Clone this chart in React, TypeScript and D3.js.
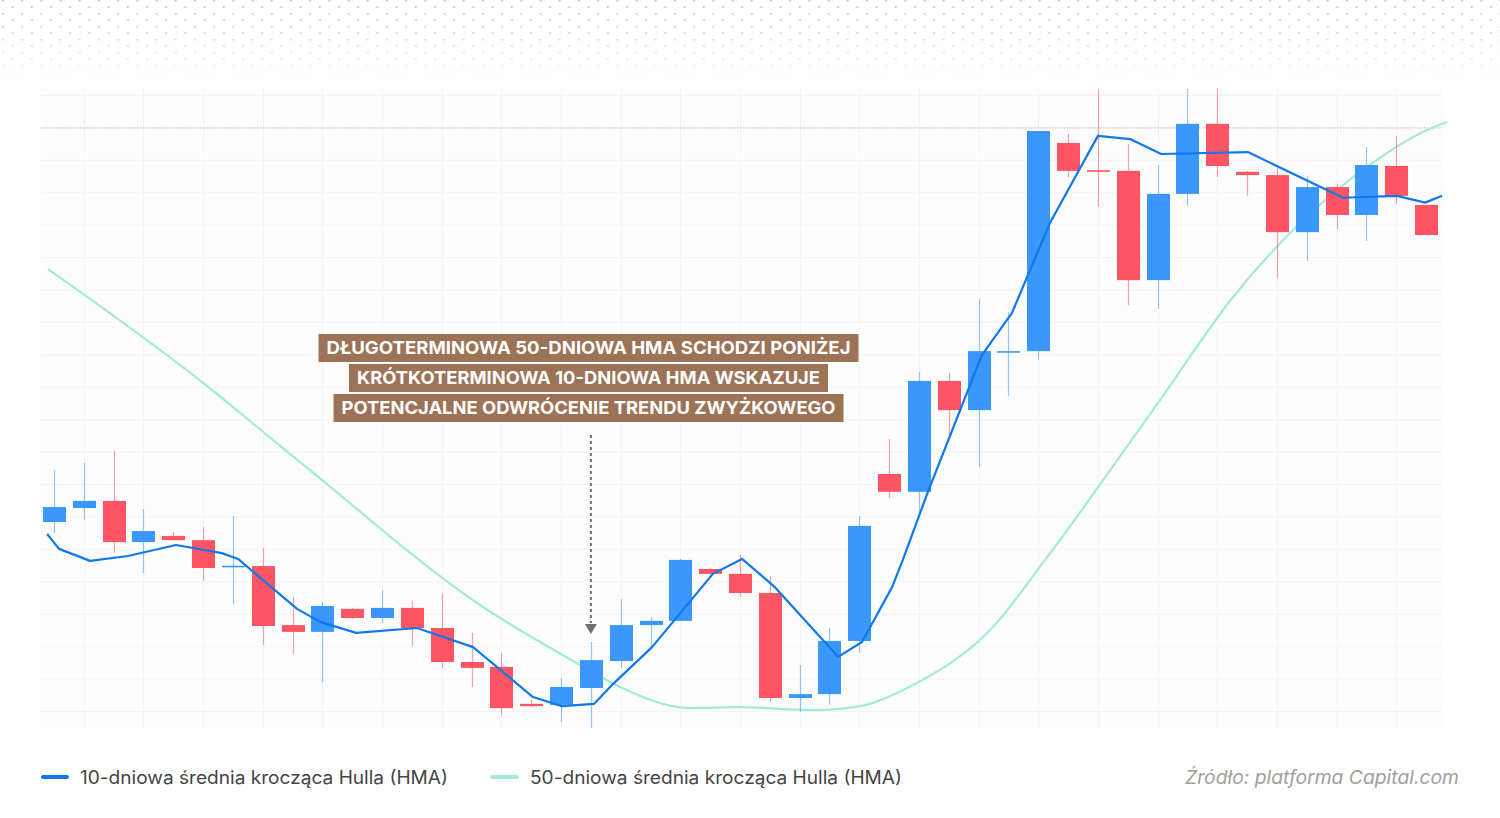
import React from 'react';
import * as d3 from 'd3';

// ---- Data (arbitrary price units) ----
const openPrices = [68.3, 72.6, 74.8, 62.1, 64.0, 62.7, 54.5, 54.7, 36.5, 34.4, 41.5, 38.7, 41.8, 35.6, 25.1, 23.6, 12.2, 11.9, 17.1, 25.4, 36.5, 37.8, 53.8, 52.3, 46.4, 14.0, 15.2, 31.6, 83.1, 77.6, 111.8, 102.8, 120.8, 121.0, 185.2, 176.8, 176.6, 142.9, 169.5, 191.1, 176.3, 175.3, 157.7, 171.6, 163.0, 178.1, 166.1];
const highPrices = [84.3, 86.5, 90.2, 72.3, 65.2, 66.8, 70.1, 60.3, 45.2, 43.6, 41.8, 47.3, 43.9, 46.1, 34.1, 27.9, 13.4, 20.2, 31.3, 44.5, 39.0, 56.9, 54.1, 58.1, 51.6, 24.2, 35.6, 70.1, 93.9, 114.6, 114.3, 137.1, 133.1, 188.9, 188.0, 201.9, 184.9, 178.4, 201.9, 201.9, 176.6, 177.5, 175.0, 172.6, 184.0, 187.4, 166.1];
const lowPrices = [64.9, 68.9, 58.7, 52.6, 62.7, 50.1, 43.0, 30.4, 27.6, 18.9, 38.4, 37.1, 30.0, 23.3, 17.4, 8.8, 11.2, 6.6, 4.8, 23.3, 30.0, 37.8, 51.9, 45.2, 12.8, 9.7, 11.9, 27.9, 75.7, 71.1, 95.1, 85.3, 107.2, 118.3, 174.7, 165.5, 135.2, 134.0, 165.8, 174.7, 168.9, 143.6, 148.8, 158.7, 155.0, 166.4, 156.8];
const closePrices = [72.9, 74.8, 62.1, 65.5, 62.7, 54.1, 54.8, 36.2, 34.4, 42.4, 38.7, 41.8, 35.6, 25.1, 23.3, 10.9, 11.5, 17.4, 25.7, 36.5, 37.8, 56.6, 52.3, 46.4, 14.0, 15.2, 31.6, 67.1, 77.6, 111.8, 102.8, 121.0, 121.0, 188.9, 176.6, 176.6, 142.9, 169.5, 191.1, 178.1, 175.3, 157.7, 171.6, 163.0, 178.4, 168.9, 156.8];

// 10-day HMA (position in candle index units, value)
const hma10Index = [-0.23, 0.17, 1.21, 2.48, 4.09, 5.63, 6.17, 8.15, 8.92, 10.13, 12.17, 14.05, 16.06, 17.03, 18.11, 18.74, 20.05, 22.09, 23.07, 24.17, 26.29, 27.09, 28.10, 28.46, 29.30, 31.11, 32.12, 33.39, 35.0, 36.08, 37.12, 40.03, 43.22, 45.03, 45.97, 46.54];
const hma10Values = [64.6, 60.0, 56.3, 57.8, 61.2, 58.7, 56.9, 41.5, 37.5, 34.1, 35.6, 29.7, 14.3, 11.5, 12.2, 18.3, 29.7, 52.3, 56.9, 48.2, 26.7, 31.3, 48.2, 56.6, 77.6, 119.8, 132.8, 160.5, 187.4, 186.4, 181.8, 182.4, 168.3, 168.9, 166.8, 168.9];

// 50-day HMA
const hma50Index = [-0.2, 5.0, 7.34, 8.58, 14.28, 17.64, 18.98, 21.32, 23.0, 25.45, 27.02, 28.8, 31.48, 33.23, 37.08, 39.53, 41.78, 44.02, 46.03, 46.7];
const hma50Values = [146.3, 111.2, 93.6, 84.3, 42.7, 24.2, 17.4, 10.9, 11.2, 10.3, 11.5, 18.0, 35.9, 56.6, 105.9, 137.7, 160.5, 177.8, 189.2, 191.7];

const gridLevels = d3.range(10, 201, 10);
const referencePrice = 190;
const arrowCandle = 18;

const annotationLines = [
  'DŁUGOTERMINOWA 50-DNIOWA HMA SCHODZI PONIŻEJ',
  'KRÓTKOTERMINOWA 10-DNIOWA HMA WSKAZUJE',
  'POTENCJALNE ODWRÓCENIE TRENDU ZWYŻKOWEGO',
];
const annotationWidths = [540, 479, 510];
const legendLabels = [
  '10-dniowa średnia krocząca Hulla (HMA)',
  '50-dniowa średnia krocząca Hulla (HMA)',
];
const sourceText = 'Źródło: platforma Capital.com';

// ---- Styles ----
const W = 1500;
const H = 818;
const UP = '#3a97fb';
const DOWN = '#ff5463';
const LINE10 = '#0f78ec';
const LINE50 = '#a5e9dd';
const BROWN = '#9d7357';
const FONT = 'Inter, "Noto Sans", sans-serif';

export default function App() {
  const plot = { left: 41, right: 1442, top: 89, bottom: 728 };
  const x = d3.scaleLinear().domain([0, openPrices.length - 1]).range([54, 1426]);
  const y = d3.scaleLinear().domain([10, 200]).range([711, 95]);
  const bodyW = 23;

  const line10 = d3
    .line<number>()
    .x((_, i) => x(hma10Index[i]))
    .y((d) => y(d))
    .curve(d3.curveLinear)(hma10Values);
  const line50 = d3
    .line<number>()
    .x((_, i) => x(hma50Index[i]))
    .y((d) => y(d))
    .curve(d3.curveMonotoneX)(hma50Values);

  const verticalGrid = d3.range(1, openPrices.length, 2);
  const ax = x(arrowCandle);

  return (
    <svg
      width={W}
      height={H}
      style={{ position: 'absolute', left: 0, top: 0, background: '#fff' }}
      xmlns="http://www.w3.org/2000/svg"
    >
      <defs>
        <pattern id="dots" width="19.2" height="13" patternUnits="userSpaceOnUse">
          <circle cx="3" cy="0.5" r="1.2" fill="#c9c9c9" />
          <circle cx="12.6" cy="7" r="1.2" fill="#c9c9c9" />
        </pattern>
        <linearGradient id="fade" x1="0" y1="0" x2="0" y2="1">
          <stop offset="0" stopColor="#fff" stopOpacity="1" />
          <stop offset="1" stopColor="#fff" stopOpacity="0" />
        </linearGradient>
        <mask id="fadeMask">
          <rect x="0" y="0" width={W} height="90" fill="url(#fade)" />
        </mask>
      </defs>

      <rect x="0" y="0" width={W} height={H} fill="#fff" />
      <rect x="0" y="0" width={W} height="90" fill="url(#dots)" mask="url(#fadeMask)" />

      {/* plot background */}
      <rect
        x={plot.left}
        y={plot.top}
        width={plot.right - plot.left}
        height={plot.bottom - plot.top}
        fill="#fdfdfd"
      />

      {/* grid */}
      <g stroke="#f4f4f4" strokeWidth={1}>
        {gridLevels.map((g) => (
          <line key={'h' + g} x1={plot.left} x2={plot.right} y1={y(g) + 0.5} y2={y(g) + 0.5} />
        ))}
        {verticalGrid.map((i) => (
          <line key={'v' + i} x1={Math.round(x(i)) + 0.5} x2={Math.round(x(i)) + 0.5} y1={plot.top} y2={plot.bottom} />
        ))}
      </g>

      {/* reference price line */}
      <line
        x1={plot.left}
        x2={plot.right}
        y1={y(referencePrice) + 0.5}
        y2={y(referencePrice) + 0.5}
        stroke="#f6a3aa"
        strokeWidth={1}
        strokeDasharray="1.5 1.5"
      />

      {/* 50 HMA */}
      <path d={line50 || ''} fill="none" stroke={LINE50} strokeWidth={2.2} />

      {/* candles */}
      {openPrices.map((o, i) => {
        const c = closePrices[i];
        const up = c >= o;
        const col = up ? UP : DOWN;
        const cx = Math.round(x(i)) + 0.5;
        const top = y(Math.max(o, c));
        const bot = y(Math.min(o, c));
        const h = Math.max(1.6, bot - top);
        return (
          <g key={'c' + i}>
            <line
              x1={cx}
              x2={cx}
              y1={y(highPrices[i])}
              y2={y(lowPrices[i])}
              stroke={col}
              strokeOpacity={0.55}
              strokeWidth={1.2}
            />
            <rect x={cx - bodyW / 2} y={top} width={bodyW} height={h} fill={col} />
          </g>
        );
      })}

      {/* 10 HMA */}
      <path d={line10 || ''} fill="none" stroke={LINE10} strokeWidth={2.2} strokeLinejoin="round" />

      {/* annotation */}
      {annotationLines.map((t, i) => {
        const cy = 348 + i * 30;
        const w = annotationWidths[i];
        const cx = 588.5;
        return (
          <g key={'a' + i}>
            <rect x={cx - w / 2} y={cy - 14} width={w} height={28} fill={BROWN} />
            <text
              x={cx}
              y={cy + 6}
              textAnchor="middle"
              fill="#fff"
              fontFamily={FONT}
              fontWeight={700}
              fontSize={17.5}
              textLength={w - 16}
              lengthAdjust="spacingAndGlyphs"
            >
              {t}
            </text>
          </g>
        );
      })}

      {/* arrow */}
      <line x1={ax} x2={ax} y1={435} y2={623} stroke="#707070" strokeWidth={2} strokeDasharray="3 3" />
      <path d={`M${ax - 6},${624} L${ax + 6},${624} L${ax},${634} Z`} fill="#707070" />

      {/* legend */}
      <line x1={43} x2={67} y1={777} y2={777} stroke={LINE10} strokeWidth={4} strokeLinecap="round" />
      <text x={80} y={784} fontFamily={FONT} fontSize={18} fill="#444" textLength={368} lengthAdjust="spacingAndGlyphs">
        {legendLabels[0]}
      </text>
      <line x1={492} x2={517} y1={777} y2={777} stroke={LINE50} strokeWidth={4} strokeLinecap="round" />
      <text x={530} y={784} fontFamily={FONT} fontSize={18} fill="#444" textLength={372} lengthAdjust="spacingAndGlyphs">
        {legendLabels[1]}
      </text>

      {/* source */}
      <text
        x={1459}
        y={784}
        textAnchor="end"
        fontFamily={FONT}
        fontStyle="italic"
        fontSize={19}
        fill="#a39e9c"
        textLength={274}
        lengthAdjust="spacingAndGlyphs"
      >
        {sourceText}
      </text>
    </svg>
  );
}
